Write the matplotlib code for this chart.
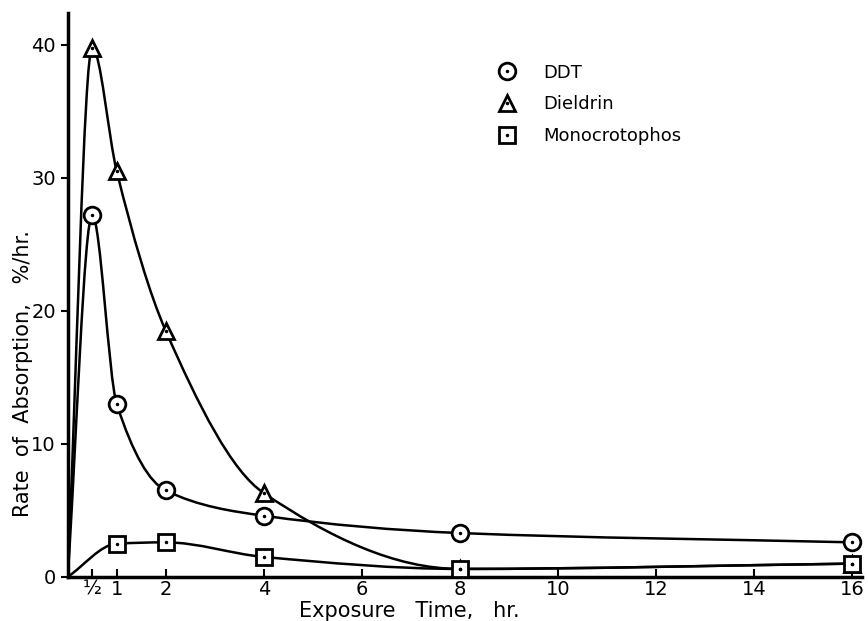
import numpy as np
import matplotlib
matplotlib.use('Agg')
import matplotlib.pyplot as plt
from matplotlib.path import Path
from matplotlib.patches import PathPatch

# values (% absorbed per hr)
t_ddt = [0.5, 1, 2, 4, 8, 16]
ddt = [27.2, 13.0, 6.5, 4.6, 3.3, 2.6]
t_diel = [0.5, 1, 2, 4, 8, 16]
dieldrin = [39.8, 30.5, 18.5, 6.3, 0.6, 1.0]
t_mono = [1, 2, 4, 8, 16]
mono = [2.5, 2.6, 1.5, 0.6, 1.0]
start = (0.0, 0.0)  # all curves leave the origin

xticks = [0.5, 1, 2, 4, 6, 8, 10, 12, 14, 16]
xticklabels = ['½', '1', '2', '4', '6', '8', '10', '12', '14', '16']
yticks = [0, 10, 20, 30, 40]


def smooth_path(x, y):
    # shape preserving cubic bezier through the points
    x = np.asarray(x, float)
    y = np.asarray(y, float)
    h = np.diff(x)
    d = np.diff(y) / h
    m = np.zeros_like(x)
    m[0], m[-1] = d[0], d[-1]
    for i in range(1, len(x) - 1):
        if d[i - 1] * d[i] > 0:
            w1 = 2 * h[i] + h[i - 1]
            w2 = h[i] + 2 * h[i - 1]
            m[i] = (w1 + w2) / (w1 / d[i - 1] + w2 / d[i])
    verts = [(x[0], y[0])]
    codes = [Path.MOVETO]
    for i in range(len(x) - 1):
        verts += [(x[i] + h[i] / 3, y[i] + m[i] * h[i] / 3),
                  (x[i + 1] - h[i] / 3, y[i + 1] - m[i + 1] * h[i] / 3),
                  (x[i + 1], y[i + 1])]
        codes += [Path.CURVE4] * 3
    return Path(verts, codes)


fig = plt.figure(figsize=(8.68, 6.21), dpi=100)
ax = fig.add_axes([0.078, 0.071, 0.915, 0.908])

series = [(t_ddt, ddt, 'o', 'DDT'),
          (t_diel, dieldrin, '^', 'Dieldrin'),
          (t_mono, mono, 's', 'Monocrotophos')]
handles = []
for tx, ty, mk, name in series:
    path = smooth_path([start[0]] + tx, [start[1]] + ty)
    ax.add_patch(PathPatch(path, facecolor='none', edgecolor='black', lw=1.8, zorder=2))
    ms = 12 if mk != 's' else 11
    h1, = ax.plot(tx, ty, mk, ms=ms, mfc='white', mec='black', mew=2, ls='none', zorder=3)
    h2, = ax.plot(tx, ty, '.', ms=3, color='black', ls='none', zorder=4)
    handles.append((h1, h2))

ax.legend(handles, [s[3] for s in series], loc='upper left',
          bbox_to_anchor=(0.53, 0.91), frameon=False, fontsize=13,
          handletextpad=1.0, labelspacing=0.75, borderaxespad=0, borderpad=0)

ax.set_xlim(0, 16.2)
ax.set_ylim(0, 42.4)
ax.set_xticks(xticks)
ax.set_xticklabels(xticklabels)
ax.set_yticks(yticks)
ax.tick_params(axis='x', direction='in', length=6, width=1.5, labelsize=14, pad=2)
ax.tick_params(axis='y', direction='out', length=5, width=1.5, labelsize=14)
for s in ['top', 'right']:
    ax.spines[s].set_visible(False)
for s in ['left', 'bottom']:
    ax.spines[s].set_linewidth(2.5)

ax.set_xlabel('Exposure   Time,   hr.', fontsize=15)
ax.xaxis.set_label_coords(0.43, -0.043)
ax.set_ylabel('Rate  of  Absorption,   %/hr.', fontsize=15)
ax.yaxis.set_label_coords(-0.044, 0.36)

fig.savefig('out.png', dpi=100)
